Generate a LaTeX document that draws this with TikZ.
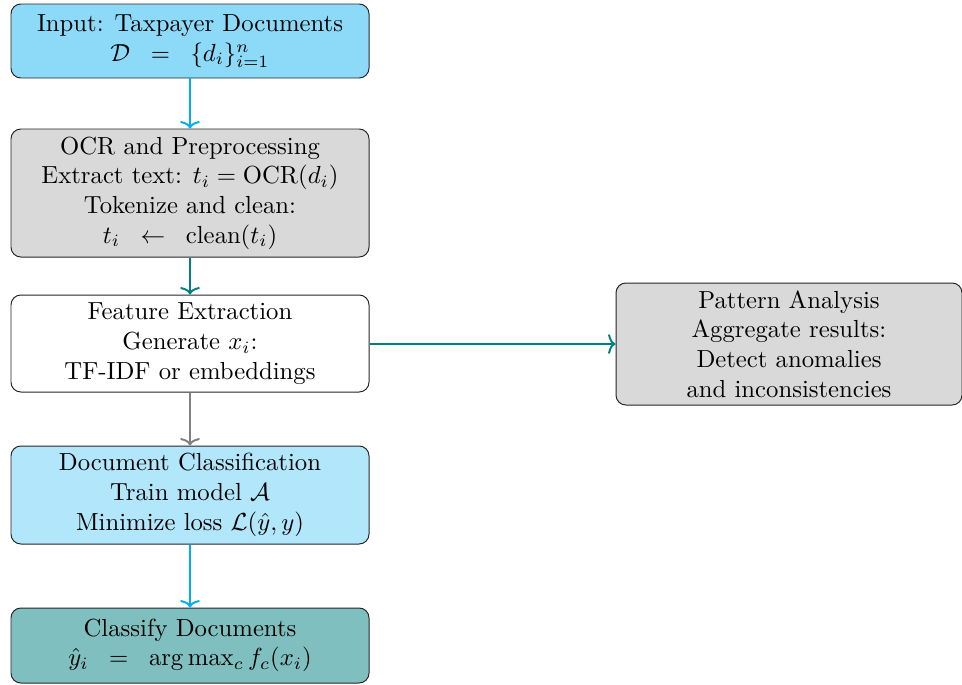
\documentclass[tikz,border=0pt]{standalone}
\usepackage{amsmath}
\usetikzlibrary{arrows.meta}
\begin{document}
\definecolor{flowcyan}{RGB}{0,174,239}
\definecolor{flowteal}{RGB}{0,128,128}
\definecolor{flowgray}{RGB}{128,128,128}
\definecolor{inputfill}{RGB}{140,218,248}
\definecolor{classfill}{RGB}{178,230,250}
\definecolor{procfill}{RGB}{217,217,217}
\definecolor{outfill}{RGB}{128,191,191}
\begin{tikzpicture}[x=0.4048pt,y=-0.4048pt,
  stage/.style={draw=black!85,rounded corners=4pt,align=center,inner sep=0pt,
    minimum width=358*0.4048pt,font=\normalsize},
  link/.style={-{To[length=3pt,width=8pt]},line width=0.8pt}]
\useasboundingbox (0,0) rectangle (962,684);
\node[stage,fill=inputfill,minimum height=74*0.4048pt] (input) at (190,41)
  {Input: Taxpayer Documents\\ $\mathcal{D}\;\;=\;\;\{d_i\}_{i=1}^{n}$};
\node[stage,fill=procfill,minimum height=128*0.4048pt] (ocr) at (190,193)
  {OCR and Preprocessing\\ Extract text: $t_i = \mathrm{OCR}(d_i)$\\ Tokenize and clean:\\ $t_i\;\;\leftarrow\;\;\mathrm{clean}(t_i)$};
\node[stage,fill=white,minimum height=97*0.4048pt] (feat) at (190,343.5)
  {Feature Extraction\\ Generate $x_i$:\\ TF-IDF or embeddings};
\node[stage,fill=classfill,minimum height=98*0.4048pt] (cls) at (190,495)
  {Document Classification\\ Train model $\mathcal{A}$\\ Minimize loss $\mathcal{L}(\hat{y},y)$};
\node[stage,fill=outfill,minimum height=75*0.4048pt] (out) at (190,645.5)
  {Classify Documents\\ $\hat{y}_i\;\;=\;\;\arg\max_c f_c(x_i)$};
\node[stage,fill=procfill,minimum width=346*0.4048pt,minimum height=122*0.4048pt] (pat) at (789,344)
  {Pattern Analysis\\ Aggregate results:\\ Detect anomalies\\ and inconsistencies};
\draw[link,flowcyan] (input) -- (ocr);
\draw[link,flowteal] (ocr) -- (feat);
\draw[link,flowgray] (feat) -- (cls);
\draw[link,flowcyan] (cls) -- (out);
\draw[link,flowteal] (feat.east |- pat.west) -- (pat.west);
\end{tikzpicture}
\end{document}
